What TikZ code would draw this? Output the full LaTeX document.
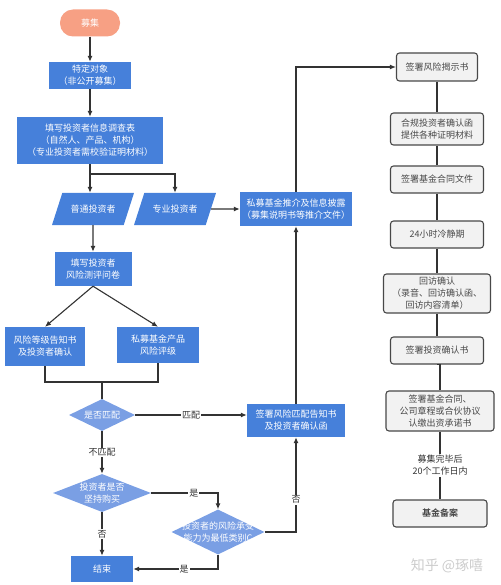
\documentclass[tikz,border=0pt]{standalone}
\usepackage{fontspec}
\setmainfont{Noto Sans CJK SC}[BoldFont={Noto Sans CJK SC Bold}]
\usetikzlibrary{shapes.geometric,arrows.meta}
%
\definecolor{blau}{RGB}{70,128,218}
\definecolor{hellblau}{RGB}{122,159,228}
\definecolor{lachs}{RGB}{247,160,132}
\definecolor{grau}{RGB}{242,242,242}
\definecolor{rand}{RGB}{72,72,72}
\definecolor{strich}{RGB}{51,51,51}
%
\begin{document}
\begin{tikzpicture}[
	x = 1pt,%
	y = -1pt,%Pixelkoordinaten des Vorbilds
	font = \fontsize{9}{12}\selectfont,
	startbox/.style = {rectangle, rounded corners=13pt, fill=lachs, text=white,
		minimum width=60pt, minimum height=27pt},
	blaubox/.style = {rectangle, fill=blau, text=white, align=center, inner sep=2pt},
	graubox/.style = {rectangle, rounded corners=3pt, draw=rand, line width=1.1pt,
		fill=grau, text=rand, align=center, inner sep=2pt},
	schraeg/.style = {trapezium, trapezium left angle=60, trapezium right angle=120,
		trapezium stretches, fill=blau, text=white,
		minimum width=82pt, minimum height=32pt},
	raute/.style = {diamond, fill=hellblau, inner sep=0pt},
	rtext/.style = {text=white, align=center},
	pfeil/.style = {draw=strich, line width=1.1pt, -{Latex[length=6pt,width=5pt]}},
	verb/.style = {draw=strich, line width=1.1pt},
	marke/.style = {fill=white, text=strich, inner sep=1pt, align=center}
]
\useasboundingbox (0,0) rectangle (500,585);
%
% linke Spalte
\node(p_start)%
    [startbox]%
    at (90,23)%
    {募集};%
\node(p_target)%
    [blaubox, minimum width=82pt, minimum height=27pt]%
    at (90,75.5)%
    {特定对象\\（非公开募集）};%
\node(p_form)%
    [blaubox, minimum width=146pt, minimum height=47pt]%
    at (90,140.5)%
    {填写投资者信息调查表\\（自然人、产品、机构）\\（专业投资者需校验证明材料）};%
\coordinate(c_split) at (90,174);%
\node(p_normal)%
    [schraeg]%
    at (93,209)%
    {普通投资者};%
\node(p_pro)%
    [schraeg]%
    at (175,209)%
    {专业投资者};%
\node(p_promo)%
    [blaubox, minimum width=100pt, minimum height=34pt]%
    at (296,209)%
    {私募基金推介及信息披露\\（募集说明书等推介文件）};%
\node(p_quest)%
    [blaubox, minimum width=77pt, minimum height=34pt]%
    at (93,269)%
    {填写投资者\\风险测评问卷};%
\node(p_notice)%
    [blaubox, minimum width=80pt, minimum height=39pt]%
    at (45,346.5)%
    {风险等级告知书\\及投资者确认};%
\node(p_prodrate)%
    [blaubox, minimum width=82pt, minimum height=36pt]%
    at (158,345)%
    {私募基金产品\\风险评级};%
\coordinate(c_merge) at (102,382);%
\node(p_match)%
    [raute, minimum width=66pt, minimum height=32pt,
     label={[rtext]center:是否匹配}]%
    at (102,415)%
    {};%
\node(p_sign)%
    [blaubox, minimum width=98pt, minimum height=33pt]%
    at (296,420.5)%
    {签署风险匹配告知书\\及投资者确认函};%
\node(p_insist)%
    [raute, minimum width=98pt, minimum height=38pt,
     label={[rtext]center:投资者是否\\坚持购买}]%
    at (102,493)%
    {};%
\node(p_minc)%
    [raute, minimum width=93pt, minimum height=45pt,
     label={[rtext]center:投资者的风险承受\\能力为最低类别C}]%
    at (218,532)%
    {};%
\node(p_end)%
    [blaubox, minimum width=62pt, minimum height=26pt]%
    at (102,569)%
    {结束};%
%
% rechte Spalte
\node(p_risk)%
    [graubox, minimum width=81pt, minimum height=28pt]%
    at (437,67)%
    {签署风险揭示书};%
\node(p_comply)%
    [graubox, minimum width=93pt, minimum height=32pt]%
    at (437,129)%
    {合规投资者确认函\\提供各种证明材料};%
\node(p_contract)%
    [graubox, minimum width=93pt, minimum height=27pt]%
    at (437,179.5)%
    {签署基金合同文件};%
\node(p_cool)%
    [graubox, minimum width=93pt, minimum height=27pt]%
    at (437,234.5)%
    {24小时冷静期};%
\node(p_visit)%
    [graubox, minimum width=107pt, minimum height=39pt]%
    at (437,293.5)%
    {回访确认\\（录音、回访确认函、\\回访内容清单）};%
\node(p_confirm)%
    [graubox, minimum width=93pt, minimum height=27pt]%
    at (437,350.5)%
    {签署投资确认书};%
\node(p_agree)%
    [graubox, minimum width=108pt, minimum height=40pt]%
    at (440,411)%
    {签署基金合同、\\公司章程或合伙协议\\认缴出资承诺书};%
\node(p_record)%
    [graubox, minimum width=94pt, minimum height=27pt, font=\fontsize{9}{12}\selectfont\bfseries]%
    at (440,513.5)%
    {基金备案};%
\node(p_mark)%
    [text=gray!40, font=\fontsize{14}{16}\selectfont]%
    at (447,566)%
    {知乎 @琢嘻};%
%
% Verbindungen
\draw[pfeil] (p_start) -- (p_target);
\draw[pfeil] (p_target) -- (p_form);
\draw[pfeil] (p_form.south) -- (p_form.south |- p_normal.north);
\draw[pfeil] (c_split) -| (p_pro.north);
\draw[pfeil] (p_pro.east) -- (p_promo.west);
\draw[pfeil] (p_normal.south) -- (p_quest.north);
\draw[pfeil] (p_quest.south) -- (p_notice.north);
\draw[pfeil] (p_quest.south) -- (p_prodrate.north);
\draw[verb] (p_notice.south) |- (c_merge) -| (p_prodrate.south);
\draw[verb] (c_merge) -- (p_match.north);
\draw[pfeil] (p_match.east) -- node[marke]{匹配} (p_match.east -| p_sign.west);
\draw[pfeil] (p_match.south) -- node[marke]{不匹配} (p_insist.north);
\draw[pfeil] (p_insist.east) -| node[marke, pos=0.32]{是} (p_minc.north);
\draw[pfeil] (p_insist.south) -- node[marke]{否} (p_end.north);
\draw[pfeil] (p_minc.east) -| node[marke, pos=0.67]{否} (p_sign.south);
\draw[pfeil] (p_minc.south) |- node[marke, pos=0.7]{是} (p_end.east);
\draw[pfeil] (p_sign.north) -- (p_promo.south);
\draw[pfeil] (p_promo.north) |- (p_risk.west);
%
\draw[verb] (p_risk) -- (p_comply);
\draw[verb] (p_comply) -- (p_contract);
\draw[verb] (p_contract) -- (p_cool);
\draw[verb] (p_cool) -- (p_visit);
\draw[verb] (p_visit) -- (p_confirm);
\draw[verb] (p_confirm.south) -- (p_confirm.south -| p_agree.north) -- (p_agree.north);
\draw[verb] (p_agree) -- node[marke]{募集完毕后\\20个工作日内} (p_record);
%
\end{tikzpicture}
\end{document}
